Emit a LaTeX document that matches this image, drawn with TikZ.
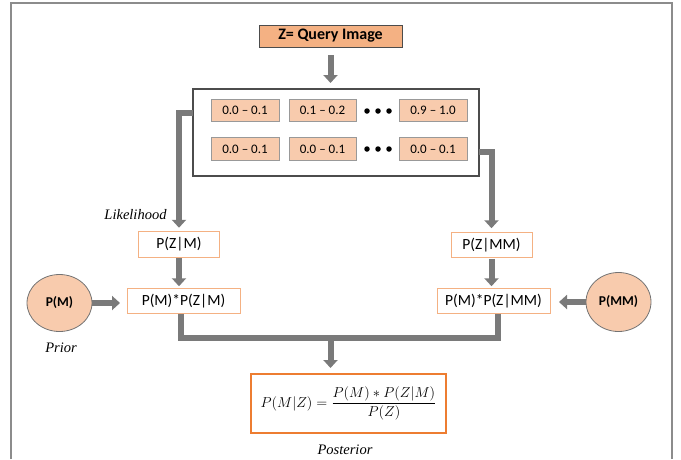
\documentclass[tikz,border=0pt]{standalone}
\usepackage[no-math]{fontspec}
\setmainfont{Carlito}
\newfontfamily\tnr{Liberation Serif}
\usetikzlibrary{arrows.meta,shapes.geometric,calc}
\definecolor{qfill}{HTML}{F4B183}
\definecolor{bfill}{HTML}{F8CBAD}
\definecolor{oline}{HTML}{F4B183}
\definecolor{post}{HTML}{ED7D31}
\definecolor{arrg}{HTML}{7A7A7A}
\definecolor{frameg}{HTML}{8C8C8C}
\begin{document}
\begin{tikzpicture}[x=1pt,y=1pt,
  every node/.style={inner sep=0pt, outer sep=0pt},
  qbox/.style={draw=black!70, line width=1pt, fill=qfill, minimum width=143pt, minimum height=22pt, font=\fontsize{16}{18}\selectfont\bfseries},
  rbox/.style={draw=black!40, line width=0.7pt, fill=bfill, minimum width=68pt, minimum height=22.5pt, font=\fontsize{13}{15}\selectfont},
  pbox/.style={draw=oline, line width=0.9pt, fill=white, minimum height=25.5pt, font=\fontsize{15.5}{17}\selectfont},
  circ/.style={ellipse, draw=black!55, line width=0.8pt, fill=bfill, minimum width=65pt, minimum height=57pt, font=\fontsize{13.5}{15}\selectfont\bfseries},
  lbl/.style={font=\tnr\itshape\fontsize{14.5}{16}\selectfont},
  conn/.style={draw=arrg, line width=6pt},
  arr/.style={draw=arrg, line width=6pt, -{Triangle[width=14pt,length=8pt]}},
  dot/.style={circle, fill=black, minimum size=5.5pt}]
\useasboundingbox (0,0) rectangle (681,-459);
% outer frame
\draw[frameg, line width=1.6pt] (11,-459) -- (11,-3) -- (672,-3) -- (672,-459);

\node[qbox] (query) at (330.5,-36) {Z= Query Image};
\node[draw=black!70, line width=1.1pt, fill=white, minimum width=286pt, minimum height=87pt] (big) at (336,-132.5) {};
\node[rbox] (a1) at (245,-110.5) {0.0 -- 0.1};
\node[rbox, minimum width=67pt] (a2) at (322.5,-110.5) {0.1 -- 0.2};
\node[rbox] (a3) at (433,-110.5) {0.9 -- 1.0};
\node[rbox] (b1) at (245,-149) {0.0 -- 0.1};
\node[rbox, minimum width=67pt] (b2) at (322.5,-149) {0.0 -- 0.1};
\node[rbox] (b3) at (433,-149) {0.0 -- 0.1};
\foreach \xx/\nm in {367/1,378/2,389/3}{
  \node[dot] (da\nm) at (\xx,-111) {};
  \node[dot] (db\nm) at (\xx,-149) {};
}
\draw[arr] ([yshift=-8pt]query.south) -- ([yshift=6pt]query.south |- big.north);

\node[pbox, minimum width=81pt] (pzm) at (179,-244.5) {P(Z|M)};
\node[pbox, minimum width=81pt] (pzmm) at (491.5,-245) {P(Z|MM)};
\node[pbox, minimum width=113pt] (pmz) at (183.5,-301) {P(M)*P(Z|M)};
\node[pbox, minimum width=113pt] (pmzz) at (493.5,-301) {P(M)*P(Z|MM)};

\draw[arr] ([yshift=19.5pt]big.west) -| ([yshift=4pt]pzm.north);
\draw[arr] ([yshift=-19.5pt]big.east) -| ([yshift=4pt]pzmm.north);
\draw[arr] ([yshift=-1pt]pzm.south) -- ([yshift=2pt]pzm.south |- pmz.north);
\draw[arr] ([yshift=-1pt]pzmm.south) -- ([yshift=2pt]pzmm.south |- pmzz.north);

\node[circ] (pM) at (59.5,-303) {P(M)};
\node[circ, minimum height=59pt] (pMM) at (618.5,-302) {P(MM)};
\draw[arr] (pM.east) -- ([xshift=-7pt]pmz.west |- pM.east);
\draw[arr] (pMM.west) -- ([xshift=9pt]pmzz.east |- pMM.west);

\node[draw=post, line width=1.8pt, fill=white, minimum width=195pt, minimum height=59pt] (postb) at (348.5,-403.5)
  {\fontsize{13.5}{16}\selectfont$\displaystyle P(M|Z) = \frac{P(M) * P(Z|M)}{P(Z)}$};

\coordinate (mid) at (330.5,-337.5);
\draw[conn] ([xshift=-3pt]pmz.south) |- (mid) -| ([xshift=4pt]pmzz.south);
\draw[arr] ([yshift=2.5pt]mid) -- ([yshift=6pt]mid |- postb.north);

\node[lbl] (lik) at (135.5,-215) {Likelihood};
\node[lbl] (pri) at (61,-348) {Prior};
\node[lbl] (pos) at (345,-450) {Posterior};
\end{tikzpicture}
\end{document}
